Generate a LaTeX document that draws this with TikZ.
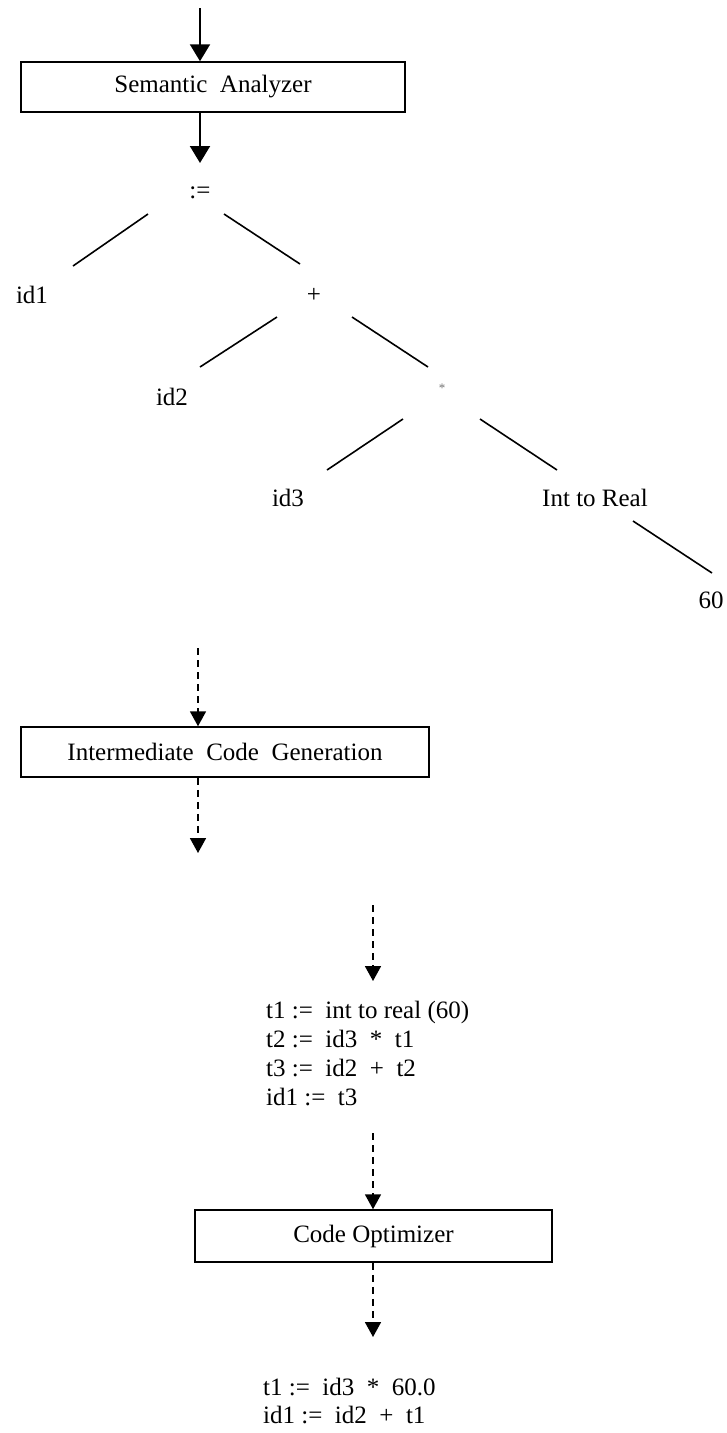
\documentclass[tikz,border=0pt]{standalone}
\usepackage{fontspec}
\setmainfont{Liberation Serif}
\usetikzlibrary{arrows.meta,calc}
\begin{document}
\begin{tikzpicture}[x=1pt,y=-1pt,
  every node/.style={font=\fontsize{25}{29}\selectfont},
  phasebox/.style={draw, line width=1.5pt, inner sep=0pt},
  treelabel/.style={inner sep=0pt},
  treeedge/.style={line width=1.6pt},
  solidarrow/.style={line width=2pt, -{Triangle[length=17pt,width=20pt]}},
  dasharrow/.style={line width=1.8pt, dash pattern=on 7pt off 5pt, -{Triangle[length=15pt,width=16pt]}},
  codeline/.style={anchor=base west, inner sep=0pt}]
\useasboundingbox (0,0) rectangle (727,1433);

% phase boxes
\node[phasebox, minimum width=384pt, minimum height=50pt] (sem) at (213,87) {Semantic~~Analyzer};
\node[phasebox, minimum width=408pt, minimum height=50pt] (icg) at (225,752) {Intermediate~~Code~~Generation};
\node[phasebox, minimum width=357pt, minimum height=52pt] (opt) at (373.5,1236) {Code Optimizer};

% arrow end points
\coordinate (inTop) at (200,8);
\coordinate (treeIn) at (200,163);
\coordinate (icgIn) at (198,648);
\coordinate (icgOut) at (198,853);
\coordinate (codeIn) at (373,905);
\coordinate (codeInEnd) at (373,981);
\coordinate (optIn) at (373,1133);
\coordinate (optOut) at (373,1337);

\draw[solidarrow] (inTop) -- (inTop |- sem.north);
\draw[solidarrow] (sem.south -| treeIn) -- (treeIn);
\draw[dasharrow] (icgIn) -- (icgIn |- icg.north);
\draw[dasharrow] (icg.south -| icgOut) -- (icgOut);
\draw[dasharrow] (codeIn) -- (codeInEnd);
\draw[dasharrow] (optIn) -- (optIn |- opt.north);
\draw[dasharrow] (opt.south -| optOut) -- (optOut);

% syntax tree
\node[treelabel] (assign) at (200,193) {:=};
\node[treelabel] (id1) at (32,295) {id1};
\node[treelabel] (plus) at (314,295) {+};
\node[treelabel] (id2) at (172,397) {id2};
\node[treelabel, font=\fontsize{13}{13}\selectfont, text=black!55] (star) at (442,388) {*};
\node[treelabel] (id3) at (288,498) {id3};
\node[treelabel] (itr) at (595,498) {Int to Real};
\node[treelabel] (sixty) at (711,600) {60};

\draw[treeedge] ($(assign)+(-52,21)$) -- ($(id1)+(41,-29)$);
\draw[treeedge] ($(assign)+(24,21)$) -- ($(plus)+(-14,-31)$);
\draw[treeedge] ($(plus)+(-37,22)$) -- ($(id2)+(28,-30)$);
\draw[treeedge] ($(plus)+(38,22)$) -- ($(star)+(-14,-21)$);
\draw[treeedge] ($(star)+(-39,31)$) -- ($(id3)+(39,-28)$);
\draw[treeedge] ($(star)+(38,31)$) -- ($(itr)+(-38,-28)$);
\draw[treeedge] ($(itr)+(38,23)$) -- ($(sixty)+(1,-27)$);

% intermediate code
\node[codeline] (c1) at (266,1018) {t1 :=~~int to real (60)};
\node[codeline] (c2) at (266,1047) {t2 :=~~id3~~*~~t1};
\node[codeline] (c3) at (266,1076) {t3 :=~~id2~~+~~t2};
\node[codeline] (c4) at (266,1105) {id1 :=~~t3};

% optimized code
\node[codeline] (o1) at (263,1395) {t1 :=~~id3~~*~~60.0};
\node[codeline] (o2) at (263,1423) {id1 :=~~id2~~+~~t1};
\end{tikzpicture}
\end{document}
